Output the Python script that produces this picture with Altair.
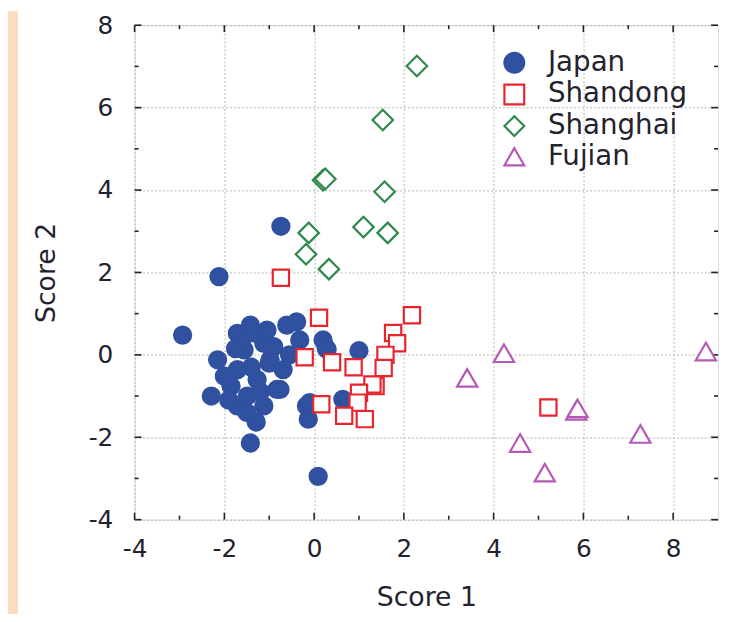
import altair as alt
import pandas as pd

# ---------------- data ----------------
regions = ["Japan", "Shandong", "Shanghai", "Fujian"]

japan_x = [-2.93, -2.12, -0.74, -1.42, 0.09, -1.29, -1.42, -1.71, -0.61, -0.32,
           -2.15, -1.56, -1.12, -0.98, -1.71, -2.29, -1.85, -1.49, -0.83, -1.71,
           -1.12, -1.27, -2.0, -1.31, -0.9, -0.17, -0.69, 0.29, 1.0, 0.2,
           -0.39, -0.1, -0.13, 0.64, -0.76, 0.27, -1.6, -1.4, -1.2, -1.9,
           -1.05, -1.5, -1.0, -0.55, -1.75]
japan_y = [0.48, 1.9, 3.12, -2.14, -2.95, -1.63, 0.72, 0.52, 0.72, 0.36,
           -0.12, 0.12, 0.28, -0.12, -0.36, -1.0, -0.76, -1.0, -0.84, -1.24,
           -1.24, -0.6, -0.52, 0.52, 0.2, -1.24, -0.36, 0.13, 0.1, 0.36,
           0.8, -1.16, -1.56, -1.08, -0.84, 0.16, 0.4, -0.3, -0.9, -1.1,
           0.6, -1.4, -0.2, 0.0, 0.15]

shandong_x = [-0.74, 0.11, 2.18, 1.76, 1.85, -0.21, 0.4, 0.88, 1.59, 1.55,
              1.37, 1.3, 1.0, 0.97, 0.16, 0.67, 1.13, 5.22]
shandong_y = [1.87, 0.9, 0.96, 0.53, 0.28, -0.06, -0.18, -0.3, 0.0, -0.32,
              -0.76, -0.72, -0.92, -1.16, -1.2, -1.48, -1.56, -1.28]

shanghai_x = [2.29, 1.53, 0.2, 0.25, 1.57, -0.12, 1.1, 1.64, -0.18, 0.33]
shanghai_y = [7.01, 5.7, 4.24, 4.27, 3.96, 2.96, 3.1, 2.96, 2.44, 2.08]

fujian_x = [4.23, 3.41, 8.73, 5.84, 5.87, 4.59, 5.14, 7.27]
fujian_y = [0.04, -0.56, 0.08, -1.36, -1.3, -2.14, -2.86, -1.92]

x_major = [-4, -2, 0, 2, 4, 6, 8]
x_minor = [-3, -1, 1, 3, 5, 7]
y_major = [-4, -2, 0, 2, 4, 6, 8]
y_minor = [-3, -1, 1, 3, 5, 7]

# ---------------- styles ----------------
FONT = "DejaVu Sans"
TXT = "#23232f"
FRAME = "#222222"
PEACH = "#FDDBBD"
strokes = ["#3050A0", "#E8242C", "#2E8A4C", "#B45AB4"]
fills = ["#3050A0", "#ffffff", "#ffffff", "#ffffff"]
shapes = ["circle", "square", "diamond", "triangle-up"]
sizes = [300, 270, 430, 420]

W, H = 590, 500

series = {"Japan": (japan_x, japan_y), "Shandong": (shandong_x, shandong_y),
          "Shanghai": (shanghai_x, shanghai_y), "Fujian": (fujian_x, fujian_y)}

xs = alt.Scale(domain=[-4, 9], nice=False, zero=False)
ys = alt.Scale(domain=[-4, 8], nice=False, zero=False)

common_axis = dict(grid=True, gridDash=[2, 2], gridColor="#b4b4b4", gridWidth=1,
                   ticks=False, domain=False, labelFont=FONT, labelFontSize=25,
                   labelColor=TXT, labelFlush=False, labelOverlap=False,
                   labelExpr="datum.value + ''", titleFont=FONT, titleFontSize=27,
                   titleFontWeight="normal", titleColor=TXT)
xaxis = alt.Axis(values=x_major, title="Score 1", labelPadding=17, titlePadding=24, **common_axis)
yaxis = alt.Axis(values=y_major, title="Score 2", labelPadding=22, titlePadding=28, **common_axis)

leg = alt.Legend(title=None, orient="none", legendX=370, legendY=24, padding=0,
                 labelFont=FONT, labelFontSize=28, labelColor=TXT, labelOffset=20,
                 symbolSize=400, symbolStrokeWidth=2.2, rowPadding=2,
                 labelLimit=300)


def point_layer(name, size):
    px, py = series[name]
    d = pd.DataFrame({"Region": [name] * len(px), "x": px, "y": py})
    return alt.Chart(d).mark_point(opacity=1, strokeWidth=2.2, size=size).encode(
        x=alt.X("x:Q", scale=xs, axis=xaxis),
        y=alt.Y("y:Q", scale=ys, axis=yaxis),
        shape=alt.Shape("Region:N", scale=alt.Scale(domain=regions, range=shapes), legend=leg),
        stroke=alt.Stroke("Region:N", scale=alt.Scale(domain=regions, range=strokes), legend=leg),
        fill=alt.Fill("Region:N", scale=alt.Scale(domain=regions, range=fills), legend=leg),
    )


def xticks(vals, length, top):
    d = pd.DataFrame({"v": vals})
    y0 = 0 if top else H
    y1 = length if top else H - length
    return alt.Chart(d).mark_rule(color=FRAME, strokeWidth=1.6).encode(
        x=alt.X("v:Q", scale=xs, axis=xaxis), y=alt.value(y0), y2=alt.value(y1))


def yticks(vals, length, right):
    d = pd.DataFrame({"v": vals})
    x0 = W if right else 0
    x1 = W - length if right else length
    return alt.Chart(d).mark_rule(color=FRAME, strokeWidth=1.6).encode(
        y=alt.Y("v:Q", scale=ys, axis=yaxis), x=alt.value(x0), x2=alt.value(x1))


peach = alt.Chart(alt.Data(values=[{"a": 1}])).mark_rect(color=PEACH).encode(
    x=alt.value(-128), x2=alt.value(-118), y=alt.value(-14), y2=alt.value(H + 100))

layers = [peach]
for top in (False, True):
    layers.append(xticks(x_major, 7, top))
    layers.append(xticks(x_minor, 4, top))
for right in (False, True):
    layers.append(yticks(y_major, 7, right))
    layers.append(yticks(y_minor, 4, right))
for name, s in zip(regions, sizes):
    layers.append(point_layer(name, s))

chart = alt.layer(*layers).properties(
    width=W, height=H,
    padding={"left": 128, "top": 14, "right": 3, "bottom": 92},
    autosize=alt.AutoSizeParams(type="none"),
).configure_view(stroke=FRAME, strokeWidth=2).configure(background="#ffffff")

chart.save("out.html", embed_options={"renderer": "svg", "actions": False})
